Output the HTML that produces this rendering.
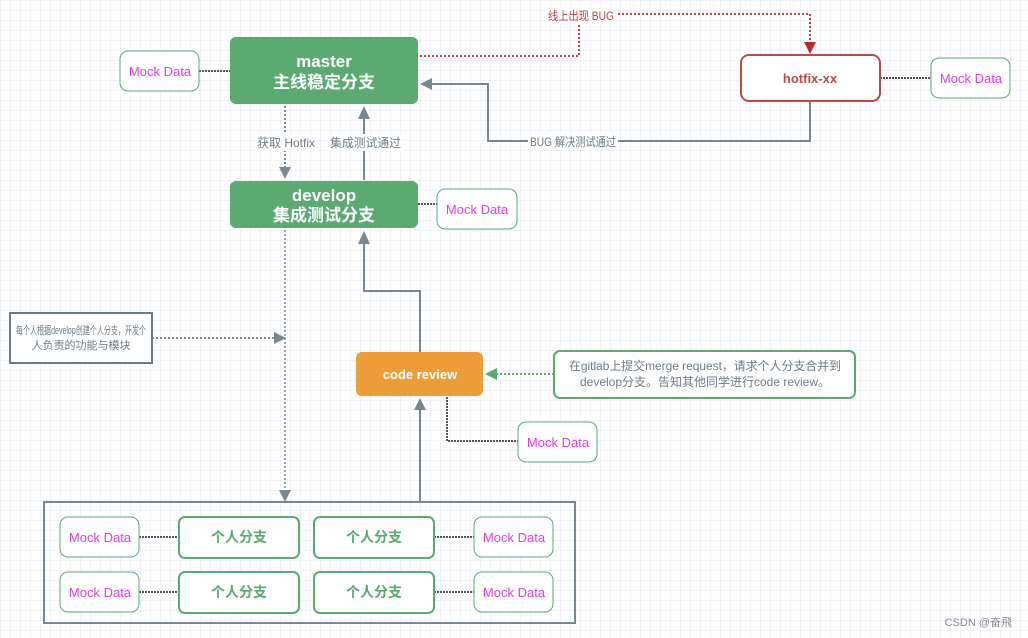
<!DOCTYPE html>
<html><head><meta charset="utf-8"><style>
html,body{margin:0;padding:0;background:#fff}
svg{display:block}
text{font-family:"Liberation Sans","Noto Sans CJK SC",sans-serif}
</style></head><body>
<svg width="1028" height="638" xmlns="http://www.w3.org/2000/svg">
<defs>
<pattern id="g" width="10" height="10" patternUnits="userSpaceOnUse"><path d="M10 0H0V10" fill="none" stroke="#e4e4f4" stroke-width="1"/></pattern>
</defs>
<rect width="1028" height="638" fill="#fff"/>
<rect width="1028" height="638" fill="url(#g)"/>

<!-- red dotted -->
<polyline points="420,56 579,56 579,14 810,14 810,42" fill="none" stroke="#c43c3c" stroke-width="2" stroke-dasharray="2,2"/>
<polygon points="804,42 816,42 810,54" fill="#b22a2a"/>
<rect x="546" y="6" width="70" height="17" fill="#fff"/>
<text x="548" y="20" font-size="12" fill="#b84040" textLength="66" lengthAdjust="spacingAndGlyphs">线上出现 BUG</text>

<!-- BUG return -->
<polyline points="810,101 810,141 488,141 488,84 432,84" fill="none" stroke="#7a8791" stroke-width="2"/>
<polygon points="432,78 432,90 420,84" fill="#7a8791"/>
<rect x="528" y="133" width="90" height="17" fill="#fff"/>
<text x="530" y="146" font-size="12" fill="#6c7a86" textLength="86" lengthAdjust="spacingAndGlyphs">BUG 解决测试通过</text>

<!-- master <-> develop -->
<line x1="285" y1="106" x2="285" y2="167" stroke="#7a8791" stroke-width="2" stroke-dasharray="2,2"/>
<polygon points="279,167 291,167 285,179" fill="#7a8791"/>
<line x1="364" y1="180" x2="364" y2="118" stroke="#7a8791" stroke-width="2"/>
<polygon points="358,119 370,119 364,106" fill="#7a8791"/>
<rect x="255" y="134" width="62" height="17" fill="#fff"/>
<text x="257" y="147" font-size="12" fill="#6c7a86" textLength="58" lengthAdjust="spacingAndGlyphs">获取 Hotfix</text>
<rect x="328" y="134" width="75" height="17" fill="#fff"/>
<text x="330" y="147" font-size="12" fill="#6c7a86" textLength="71" lengthAdjust="spacingAndGlyphs">集成测试通过</text>

<!-- develop down -->
<line x1="285" y1="230" x2="285" y2="490" stroke="#7a8791" stroke-width="1.5" stroke-dasharray="2,2"/>
<polygon points="279,490 291,490 285,502" fill="#7a8791"/>
<!-- note arrow -->
<line x1="152" y1="338" x2="274" y2="338" stroke="#7a8791" stroke-width="2" stroke-dasharray="2,2"/>
<polygon points="274,332 274,344 286,338" fill="#7a8791"/>

<!-- code review to develop -->
<polyline points="420,352 420,291 364,291 364,244" fill="none" stroke="#7a8791" stroke-width="2"/>
<polygon points="358,244 370,244 364,231" fill="#7a8791"/>
<!-- big box to code review -->
<line x1="420" y1="502" x2="420" y2="410" stroke="#7a8791" stroke-width="2"/>
<polygon points="414,410 426,410 420,398" fill="#7a8791"/>
<!-- green note arrow -->
<line x1="554" y1="374" x2="497" y2="374" stroke="#5aaa72" stroke-width="2" stroke-dasharray="2,2"/>
<polygon points="497,368 497,380 485,374" fill="#5aaa72"/>
<!-- cr mock -->
<polyline points="447,397 447,441 518,441" fill="none" stroke="#555" stroke-width="2" stroke-dasharray="2,1"/>

<!-- mock connectors -->
<g stroke="#555" stroke-width="2" stroke-dasharray="2,1">
<line x1="199" y1="71" x2="230" y2="71"/>
<line x1="418" y1="204" x2="437" y2="204"/>
<line x1="880" y1="78" x2="931" y2="78"/>
<line x1="139" y1="537" x2="179" y2="537"/>
<line x1="139" y1="592" x2="179" y2="592"/>
<line x1="434" y1="537" x2="474" y2="537"/>
<line x1="434" y1="592" x2="474" y2="592"/>
</g>

<!-- master -->
<rect x="230" y="37" width="188" height="67" rx="6" fill="#5aaa72"/>
<text x="324" y="67" font-size="17" font-weight="bold" fill="#fff" text-anchor="middle">master</text>
<text x="324" y="88" font-size="17" font-weight="bold" fill="#fff" text-anchor="middle">主线稳定分支</text>
<!-- develop -->
<rect x="230" y="181" width="188" height="47" rx="6" fill="#5aaa72"/>
<text x="324" y="201" font-size="17" font-weight="bold" fill="#fff" text-anchor="middle">develop</text>
<text x="324" y="221" font-size="17" font-weight="bold" fill="#fff" text-anchor="middle">集成测试分支</text>
<!-- hotfix -->
<rect x="741" y="55" width="139" height="46" rx="8" fill="#fff" stroke="#b84a4a" stroke-width="2"/>
<text x="810" y="83" font-size="13" font-weight="bold" fill="#b84a4a" text-anchor="middle">hotfix-xx</text>
<!-- code review -->
<rect x="356" y="352" width="127" height="44" rx="6" fill="#ec9c38"/>
<text x="420" y="379" font-size="13" font-weight="bold" fill="#fff" text-anchor="middle">code review</text>
<!-- notes -->
<rect x="10" y="313" width="142" height="50" fill="#fff" stroke="#6c7a86" stroke-width="2"/>
<text x="16" y="334" font-size="11" fill="#6c7a86" textLength="130" lengthAdjust="spacingAndGlyphs">每个人根据develop创建个人分支，开发个</text>
<text x="81" y="349" font-size="11" fill="#6c7a86" text-anchor="middle">人负责的功能与模块</text>
<rect x="554" y="351" width="301" height="47" rx="6" fill="#fff" stroke="#5aaa72" stroke-width="2"/>
<text x="569" y="370" font-size="12" fill="#6c7a86" textLength="272" lengthAdjust="spacingAndGlyphs">在gitlab上提交merge request，请求个人分支合并到</text>
<text x="580" y="386" font-size="12" fill="#6c7a86" textLength="250" lengthAdjust="spacingAndGlyphs">develop分支。告知其他同学进行code review。</text>

<!-- big box -->
<rect x="44" y="502" width="531" height="121" fill="none" stroke="#7a8791" stroke-width="2"/>
<g fill="#fff" stroke="#5aaa72" stroke-width="2">
<rect x="179" y="517" width="120" height="41" rx="6"/>
<rect x="314" y="517" width="120" height="41" rx="6"/>
<rect x="179" y="572" width="120" height="41" rx="6"/>
<rect x="314" y="572" width="120" height="41" rx="6"/>
</g>
<g font-size="14" font-weight="bold" fill="#5aaa72" text-anchor="middle">
<text x="239" y="542">个人分支</text><text x="374" y="542">个人分支</text>
<text x="239" y="597">个人分支</text><text x="374" y="597">个人分支</text>
</g>

<!-- mock data boxes -->
<g fill="#fff" stroke="#5aaa72" stroke-width="1">
<rect x="120" y="51" width="79" height="40" rx="8"/>
<rect x="437" y="189" width="80" height="40" rx="8"/>
<rect x="931" y="58" width="79" height="40" rx="8"/>
<rect x="518" y="422" width="79" height="40" rx="8"/>
<rect x="60" y="517" width="79" height="40" rx="8"/>
<rect x="60" y="572" width="79" height="40" rx="8"/>
<rect x="474" y="517" width="79" height="40" rx="8"/>
<rect x="474" y="572" width="79" height="40" rx="8"/>
</g>
<g font-size="13" fill="#e838e8" text-anchor="middle">
<text x="160" y="76">Mock Data</text>
<text x="477" y="214">Mock Data</text>
<text x="971" y="83">Mock Data</text>
<text x="558" y="447">Mock Data</text>
<text x="100" y="542">Mock Data</text>
<text x="100" y="597">Mock Data</text>
<text x="514" y="542">Mock Data</text>
<text x="514" y="597">Mock Data</text>
</g>

<text x="1012" y="626" font-size="11" fill="#888" text-anchor="end">CSDN @奋飛</text>
</svg>
</body></html>
